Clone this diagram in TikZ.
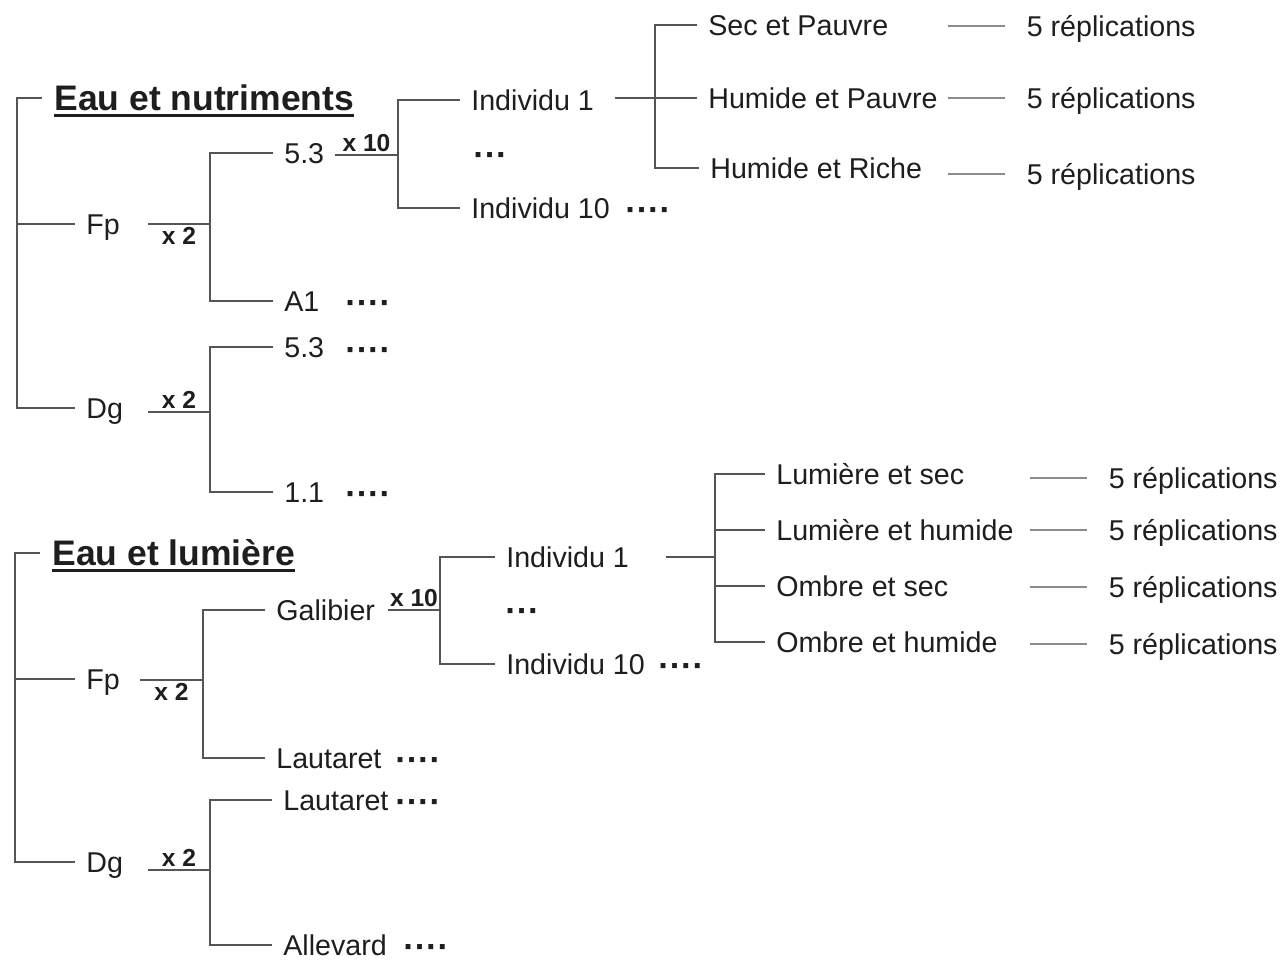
\documentclass[tikz,border=0pt]{standalone}
\usepackage{fontspec}
\setmainfont{Liberation Sans}
\usepackage{tikz}
\definecolor{trait}{HTML}{555555}
\definecolor{traitclair}{HTML}{8C8C8C}
\definecolor{texte}{HTML}{1E1E1E}
\newsavebox{\boxtitre}
\newcommand{\souligne}[1]{\sbox{\boxtitre}{#1}\rlap{\rule[-3.5pt]{\wd\boxtitre}{1.7pt}}\usebox{\boxtitre}}

\begin{document}
\begin{tikzpicture}[
    x=0.02cm, y=-0.02cm,
    every node/.style={text=texte, font=\fontsize{16.3}{19}\selectfont},
    lbl/.style={anchor=west, inner xsep=0.22cm, inner ysep=1pt, text height=11.7pt, text depth=0pt},
    titre/.style={anchor=west, inner xsep=0.24cm, inner ysep=1pt, text height=14.5pt, text depth=0pt,
        font=\fontsize{20.2}{24}\selectfont\bfseries},
    fois/.style={inner sep=1.5pt, font=\fontsize{14}{16}\selectfont\bfseries},
    pts/.style={anchor=mid west, inner sep=0pt, yshift=-5pt, font=\fontsize{19.5}{22}\selectfont\bfseries},
    repl/.style={lbl, inner xsep=0.43cm},
    branche/.style={draw=trait, line width=1pt},
    branche2/.style={draw=traitclair, line width=1.3pt}
]
    \useasboundingbox (0,0) rectangle (1286,960);

    % Eau et nutriments
    \node[titre] (nutri) at (42,98) {\souligne{Eau et nutriments}};
    \node[lbl] (fpA) at (75,224) {Fp};
    \node[lbl] (dgA) at (75,408) {Dg};
    \coordinate (rA) at (17,224);
    \draw[branche] (nutri.west) -| (rA) |- (dgA.west);
    \draw[branche] (rA) -- (fpA.west);

    % Fp
    \coordinate (fA) at (148,224);
    \coordinate (jA) at (210,224);
    \draw[branche] (fA) -- node[fois, below] {x 2} (jA);
    \node[lbl] (s53A) at (273,153) {5.3};
    \node[lbl] (a1A) at (273,301) {A1};
    \node[pts] (a1Ap) at (345,301) {····};
    \draw[branche] (s53A.west) -| (jA) |- (a1A.west);

    \coordinate (xA) at (335,155);
    \coordinate (kA) at (398,155);
    \draw[branche] (xA) -- node[fois, above] {x 10} (kA);
    \node[lbl] (i1A) at (460,100) {Individu 1};
    \node[pts] (etcA) at (473,153) {···};
    \node[lbl] (i10A) at (460,208) {Individu 10};
    \node[pts] (i10Ap) at (625,208) {····};
    \draw[branche] (i1A.west) -| (kA) |- (i10A.west);

    \coordinate (tA) at (615,98);
    \coordinate (mA) at (655,98);
    \node[lbl] (secP) at (697,25) {Sec et Pauvre};
    \node[lbl] (humP) at (697,98) {Humide et Pauvre};
    \node[lbl] (humR) at (699,168) {Humide et Riche};
    \draw[branche] (tA) -- (humP.west);
    \draw[branche] (secP.west) -| (mA) |- (humR.west);
    \foreach \y/\n in {26/1, 98/2, 174/3} {
        \coordinate (cA\n) at (948,\y);
        \node[repl] (rpA\n) at (1005,\y) {5 réplications};
        \draw[branche2] (cA\n) -- (rpA\n.west);
    }

    % Dg
    \coordinate (gA) at (148,412);
    \coordinate (lA) at (210,412);
    \draw[branche] (gA) -- node[fois, above] {x 2} (lA);
    \node[lbl] (b53A) at (273,347) {5.3};
    \node[pts] (b53Ap) at (345,348) {····};
    \node[lbl] (b11A) at (273,492) {1.1};
    \node[pts] (b11Ap) at (345,492) {····};
    \draw[branche] (b53A.west) -| (lA) |- (b11A.west);

    % Eau et lumiere
    \node[titre] (lumi) at (40,553) {\souligne{Eau et lumière}};
    \node[lbl] (fpB) at (75,679) {Fp};
    \node[lbl] (dgB) at (75,862) {Dg};
    \coordinate (rB) at (15,679);
    \draw[branche] (lumi.west) -| (rB) |- (dgB.west);
    \draw[branche] (rB) -- (fpB.west);

    % Fp
    \coordinate (fB) at (140,680);
    \coordinate (jB) at (203,680);
    \draw[branche] (fB) -- node[fois, below] {x 2} (jB);
    \node[lbl] (gal) at (265,610) {Galibier};
    \node[lbl] (lauB1) at (265,758) {Lautaret};
    \node[pts] (lauB1p) at (395,758) {····};
    \draw[branche] (gal.west) -| (jB) |- (lauB1.west);

    \coordinate (xB) at (388,610);
    \coordinate (kB) at (440,610);
    \draw[branche] (xB) -- node[fois, above] {x 10} (kB);
    \node[lbl] (i1B) at (495,557) {Individu 1};
    \node[pts] (etcB) at (505,609) {···};
    \node[lbl] (i10B) at (495,664) {Individu 10};
    \node[pts] (i10Bp) at (658,664) {····};
    \draw[branche] (i1B.west) -| (kB) |- (i10B.west);

    \coordinate (tB) at (666,557);
    \coordinate (mB) at (715,557);
    \draw[branche] (tB) -- (mB);
    \node[lbl] (lumS) at (765,474) {Lumière et sec};
    \node[lbl] (lumH) at (765,530) {Lumière et humide};
    \node[lbl] (ombS) at (765,586) {Ombre et sec};
    \node[lbl] (ombH) at (765,642) {Ombre et humide};
    \draw[branche] (lumS.west) -| (mB) |- (ombH.west);
    \draw[branche] (mB |- lumH.west) -- (lumH.west);
    \draw[branche] (mB |- ombS.west) -- (ombS.west);
    \foreach \y/\n in {478/1, 530/2, 587/3, 644/4} {
        \coordinate (cB\n) at (1030,\y);
        \node[repl] (rpB\n) at (1087,\y) {5 réplications};
        \draw[branche2] (cB\n) -- (rpB\n.west);
    }

    % Dg
    \coordinate (gB) at (148,870);
    \coordinate (lB) at (210,870);
    \draw[branche] (gB) -- node[fois, above] {x 2} (lB);
    \node[lbl] (lauB2) at (272,800) {Lautaret};
    \node[pts] (lauB2p) at (395,800) {····};
    \node[lbl] (alle) at (272,945) {Allevard};
    \node[pts] (allep) at (403,945) {····};
    \draw[branche] (lauB2.west) -| (lB) |- (alle.west);
\end{tikzpicture}
\end{document}
